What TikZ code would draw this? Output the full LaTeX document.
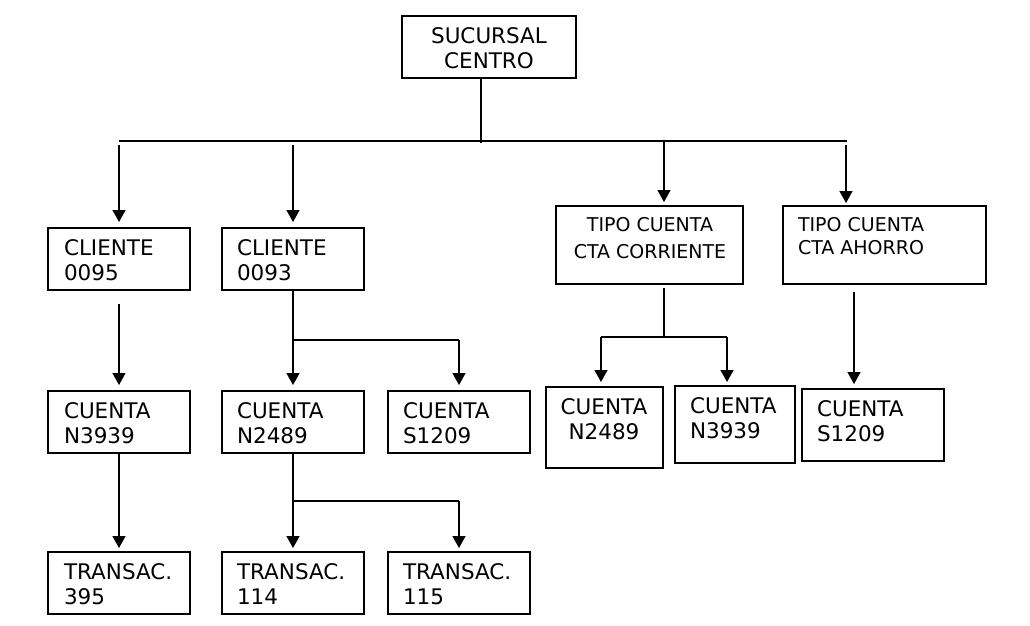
\documentclass[tikz,border=0pt]{standalone}
\usepackage{fontspec}
\setmainfont{DejaVu Sans}
\usetikzlibrary{arrows.meta}
\tikzset{
  box/.style={draw, line width=1.3pt, inner sep=0pt, outer sep=0pt},
  lbl/.style={inner sep=0pt, outer sep=0pt, font=\fontsize{21.5}{25}\selectfont},
  slbl/.style={inner sep=0pt, outer sep=0pt, font=\fontsize{19}{27}\selectfont},
  ln/.style={line width=1.4pt},
  arr/.style={line width=1.4pt, -{Triangle[length=12pt,width=13pt]}}
}
\begin{document}
\begin{tikzpicture}[x=1pt,y=-1pt]
\useasboundingbox (0,0) rectangle (1030,625);
% boxes
\node[box, minimum width=174, minimum height=62] (root) at (489,47) {};
\node[box, minimum width=142, minimum height=62] (c95) at (119,259) {};
\node[box, minimum width=142, minimum height=62] (c93) at (293,259) {};
\node[box, minimum width=187, minimum height=78] (tcc) at (649.5,245) {};
\node[box, minimum width=203, minimum height=78] (tca) at (884.5,245) {};
\node[box, minimum width=142, minimum height=62] (n3939) at (119,422) {};
\node[box, minimum width=142, minimum height=62] (n2489) at (293,422) {};
\node[box, minimum width=142, minimum height=62] (s1209) at (459,422) {};
\node[box, minimum width=117, minimum height=81] (n2489b) at (604.5,427.5) {};
\node[box, minimum width=120, minimum height=77] (n3939b) at (735,424.5) {};
\node[box, minimum width=142, minimum height=72] (s1209b) at (873,425) {};
\node[box, minimum width=142, minimum height=62] (t395) at (119,583) {};
\node[box, minimum width=142, minimum height=62] (t114) at (293,583) {};
\node[box, minimum width=142, minimum height=62] (t115) at (459,583) {};
% texts
\node[lbl, align=center] (roott) at (489,48.5) {SUCURSAL\\CENTRO};
\node[lbl, align=left, anchor=west] (c95t) at (64,260.5) {CLIENTE\\0095};
\node[lbl, align=left, anchor=west] (c93t) at (237,260.5) {CLIENTE\\0093};
\node[slbl, align=center] (tcct) at (650,238.5) {TIPO CUENTA\\CTA CORRIENTE};
\node[slbl, align=left, anchor=west, font=\fontsize{19}{23}\selectfont] (tcat) at (798,236.5) {TIPO CUENTA\\CTA AHORRO};
\node[lbl, align=left, anchor=west] (n3939t) at (64,423.5) {CUENTA\\N3939};
\node[lbl, align=left, anchor=west] (n2489t) at (237,423.5) {CUENTA\\N2489};
\node[lbl, align=left, anchor=west] (s1209t) at (403,423.5) {CUENTA\\S1209};
\node[lbl, align=center] (n2489bt) at (604,419.5) {CUENTA\\N2489};
\node[lbl, align=left, anchor=west] (n3939bt) at (690,418.5) {CUENTA\\N3939};
\node[lbl, align=left, anchor=west] (s1209bt) at (817,421) {CUENTA\\S1209};
\node[lbl, align=left, anchor=west] (t395t) at (64,584.5) {TRANSAC.\\395};
\node[lbl, align=left, anchor=west] (t114t) at (237,584.5) {TRANSAC.\\114};
\node[lbl, align=left, anchor=west] (t115t) at (403,584.5) {TRANSAC.\\115};
% bus
\coordinate (busL) at (119,141);
\coordinate (busR) at (847,141);
\coordinate (rs) at (481,78);
\draw[ln] (busL) -- (busR);
\draw[ln] (rs) -- (481,143);
\coordinate (a1) at (119,145);
\coordinate (a2) at (293,145);
\coordinate (a3) at (664,141);
\coordinate (a4) at (846,145);
\draw[arr, shorten >=6pt] (a1) -- (a1 |- c95.north);
\draw[arr, shorten >=6pt] (a2) -- (a2 |- c93.north);
\draw[arr, shorten >=4pt] (a3) -- (a3 |- tcc.north);
\draw[arr, shorten >=3pt] (a4) -- (a4 |- tca.north);
% client 0095
\coordinate (b1) at (119,304);
\draw[arr, shorten >=6pt] (b1) -- (b1 |- n3939.north);
% client 0093
\coordinate (j1) at (293,340);
\coordinate (j1r) at (459,340);
\draw[ln] (c93.south) -- (j1) -- (j1r);
\draw[arr, shorten >=6pt] (j1) -- (n2489.north);
\draw[arr, shorten >=6pt] (j1r) -- (s1209.north);
% tipo cuenta corriente
\coordinate (k0) at (664,288);
\coordinate (k1) at (664,337);
\coordinate (k1l) at (601,337);
\coordinate (k1r) at (727,337);
\draw[ln] (k0) -- (k1);
\draw[ln] (k1l) -- (k1r);
\draw[arr, shorten >=5pt] (k1l) -- (k1l |- n2489b.north);
\draw[arr, shorten >=4pt] (k1r) -- (k1r |- n3939b.north);
% tipo cuenta ahorro
\coordinate (m0) at (854,292);
\draw[arr, shorten >=5pt] (m0) -- (m0 |- s1209b.north);
% cuentas -> transac
\draw[arr, shorten >=4pt] (n3939.south) -- (t395.north);
\coordinate (j3) at (293,501);
\coordinate (j3r) at (459,501);
\draw[ln] (n2489.south) -- (j3) -- (j3r);
\draw[arr, shorten >=4pt] (j3) -- (t114.north);
\draw[arr, shorten >=4pt] (j3r) -- (t115.north);
\end{tikzpicture}
\end{document}
